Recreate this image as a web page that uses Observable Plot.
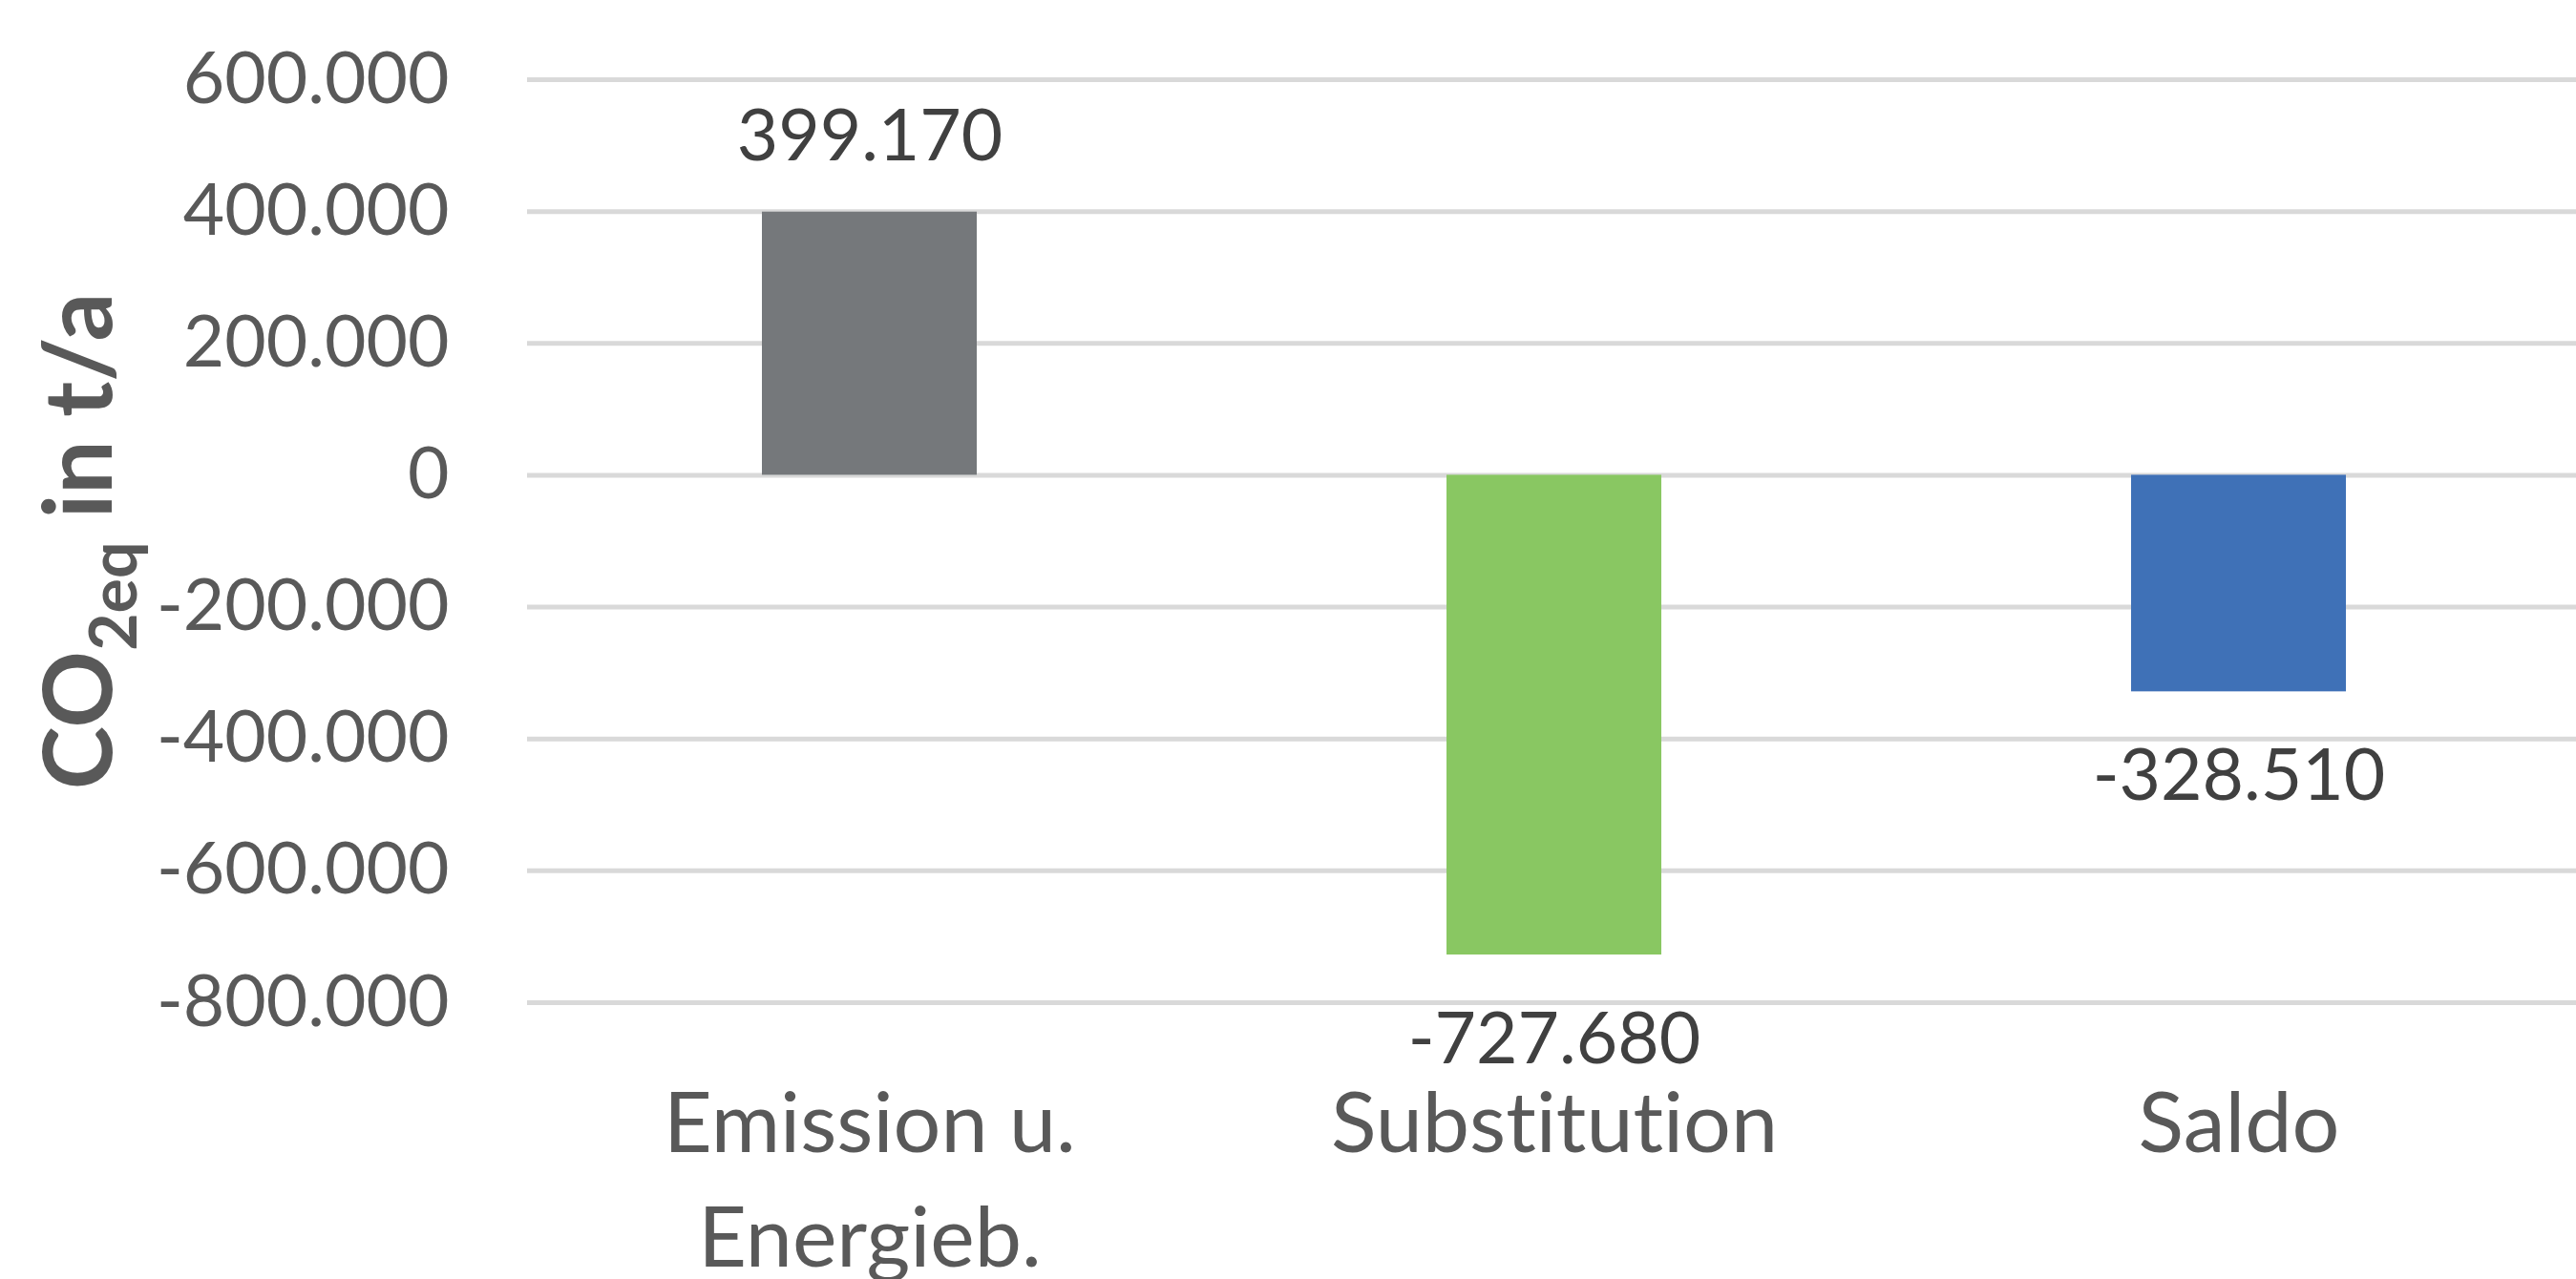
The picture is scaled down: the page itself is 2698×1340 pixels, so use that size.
<!DOCTYPE html>
<html>
<head>
<meta charset="utf-8">
<script src="https://cdn.jsdelivr.net/npm/d3@7"></script>
<script src="https://cdn.jsdelivr.net/npm/@observablehq/plot@0.6"></script>
<style>
  html, body { margin: 0; padding: 0; background: #ffffff; }
  svg { display: block; }
  svg text { font-variant-ligatures: none; }
</style>
</head>
<body>
<div id="chart"></div>
<script>
// ---- data ----
const categories = ["Emission u.\nEnergieb.", "Substitution", "Saldo"];
const values = [399170, -727680, -328510];
const barColors = ["#75787b", "#89c762", "#3f71b7"];
const yTicks = [-800000, -600000, -400000, -200000, 0, 200000, 400000, 600000];
const yTitleMain = "CO";
const yTitleSub = "2eq";
const yTitleRest = " in t/a";

// ---- formatting (German thousands separator) ----
const loc = d3.formatLocale({decimal: ",", thousands: ".", grouping: [3], currency: ["", " €"], minus: "-"});
const fmt = loc.format(",d");

const data = categories.map((c, i) => ({category: c, value: values[i]}));

const chart = Plot.plot({
  width: 2698,
  height: 1340,
  marginLeft: 552,
  marginRight: 0,
  marginTop: 83,
  marginBottom: 290,
  style: {fontFamily: "Lato", background: "#ffffff", color: "#595959"},
  x: {domain: categories, range: [552, 2704], paddingInner: 0.686, paddingOuter: 0.343},
  y: {domain: [-800000, 600000]},
  color: {domain: categories, range: barColors},
  marks: [
    Plot.ruleY(yTicks, {stroke: "#d9d9d9", strokeWidth: 5}),
    Plot.barY(data, {x: "category", y: "value", fill: "category"}),
    Plot.axisY(yTicks, {tickSize: 0, tickPadding: 82, tickFormat: fmt, fontSize: 75, fill: "#595959", label: null}),
    Plot.axisX({tickSize: 0, tickPadding: 72, fontSize: 88, lineHeight: 1.36, fill: "#595959", label: null}),
    Plot.text(data.filter(d => d.value >= 0), {
      x: "category", y: "value", text: d => fmt(d.value),
      dy: -54, lineAnchor: "bottom", fontSize: 75, fill: "#404040"
    }),
    Plot.text(data.filter(d => d.value < 0), {
      x: "category", y: "value", text: d => fmt(d.value),
      dy: 113, lineAnchor: "bottom", fontSize: 75, fill: "#404040"
    })
  ]
});

document.getElementById("chart").appendChild(chart);

// rotated y-axis title with subscript
const svg = d3.select(chart);
const t = svg.append("text")
  .attr("transform", "translate(117, 567) rotate(-90)")
  .attr("text-anchor", "middle")
  .attr("font-family", "Lato")
  .attr("font-weight", "bold")
  .attr("font-size", 100)
  .attr("fill", "#595959");
t.append("tspan").text(yTitleMain);
t.append("tspan").attr("font-size", 68).attr("dy", 26).text(yTitleSub);
t.append("tspan").attr("dy", -26).text(yTitleRest);
</script>
</body>
</html>
